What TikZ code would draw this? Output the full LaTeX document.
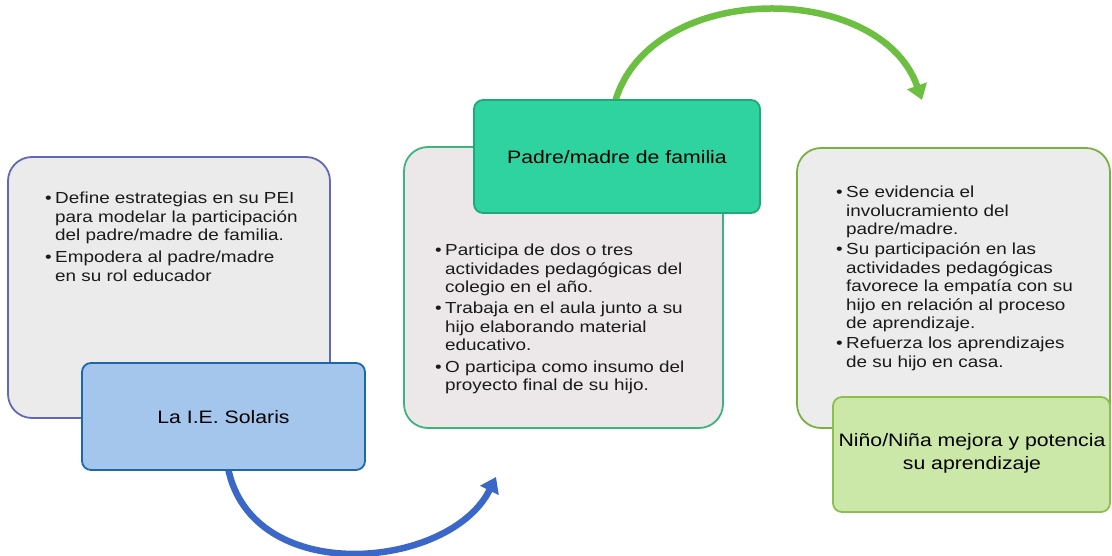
\documentclass[tikz,border=0pt]{standalone}
\usepackage{fontspec}
\setmainfont{Liberation Sans}[FakeStretch=1.18]
\usetikzlibrary{arrows.meta}
\definecolor{lbfill}{HTML}{EBEBEB}
\definecolor{lbdraw}{HTML}{6468B4}
\definecolor{lsfill}{HTML}{A4C6EC}
\definecolor{lsdraw}{HTML}{1E67A8}
\definecolor{mbfill}{HTML}{ECE8EA}
\definecolor{mbdraw}{HTML}{3DB37F}
\definecolor{msfill}{HTML}{2ED3A0}
\definecolor{msdraw}{HTML}{22A878}
\definecolor{rbfill}{HTML}{ECECEC}
\definecolor{rbdraw}{HTML}{7AB040}
\definecolor{rsfill}{HTML}{CBE8A8}
\definecolor{rsdraw}{HTML}{8CC04C}
\definecolor{barrow}{HTML}{3B68C8}
\definecolor{garrow}{HTML}{6CBF40}
\definecolor{txt}{HTML}{1A1A1A}
\newcommand{\bl}{\makebox[10pt][l]{•}}
\newcommand{\ii}{\hspace*{10pt}}
\tikzset{
  bigbox/.style={rounded corners=24pt, line width=1.8pt},
  smallbox/.style={rounded corners=9pt, line width=1.8pt},
  bullets/.style={anchor=north west, inner sep=0pt, align=left, text=txt,
    font=\fontsize{16}{18.4}\selectfont},
  title/.style={align=center, inner sep=0pt, text=black,
    font=\fontsize{18}{23}\selectfont},
  flowarrow/.style={line width=6.5pt, -{Triangle[length=15pt,width=20pt]}}
}
\begin{document}
\begin{tikzpicture}[x=1pt,y=1pt]
\useasboundingbox (0,0) rectangle (1112,-556);
% arrows (behind the boxes)
\coordinate (bs) at (228,-468);
\coordinate (be) at (496,-477);
\coordinate (gs) at (615,-102);
\coordinate (ge) at (922,-100);
\draw[flowarrow, barrow] (bs) .. controls (252,-588) and (450,-570) .. (be);
\draw[flowarrow, garrow] (gs) .. controls (650,20) and (880,20) .. (ge);
% left
\draw[bigbox, fill=lbfill, draw=lbdraw] (8,-157) rectangle (330,-418);
\node[bullets] (lt) at (45,-192) {\bl Define estrategias en su PEI\\
\ii para modelar la participación\\
\ii del padre/madre de familia.\\[4pt]
\bl Empodera al padre/madre\\
\ii en su rol educador};
\draw[smallbox, fill=lsfill, draw=lsdraw] (82,-363) rectangle (365,-470);
\node[title] (ls) at (223.5,-417) {La I.E. Solaris};
% middle
\draw[bigbox, fill=mbfill, draw=mbdraw] (404,-147) rectangle (723,-428);
\node[bullets] (mt) at (435,-244) {\bl Participa de dos o tres\\
\ii actividades pedagógicas del\\
\ii colegio en el año.\\[3pt]
\bl Trabaja en el aula junto a su\\
\ii hijo elaborando material\\
\ii educativo.\\[3pt]
\bl O participa como insumo del\\
\ii proyecto final de su hijo.};
\draw[smallbox, fill=msfill, draw=msdraw] (474,-100) rectangle (760,-213);
\node[title] (ms) at (617,-157) {Padre/madre de familia};
% right
\draw[bigbox, fill=rbfill, draw=rbdraw] (797,-148) rectangle (1110,-428);
\node[bullets] (rt) at (836,-186) {\bl Se evidencia el\\
\ii involucramiento del\\
\ii padre/madre.\\[2pt]
\bl Su participación en las\\
\ii actividades pedagógicas\\
\ii favorece la empatía con su\\
\ii hijo en relación al proceso\\
\ii de aprendizaje.\\[2pt]
\bl Refuerza los aprendizajes\\
\ii de su hijo en casa.};
\draw[smallbox, fill=rsfill, draw=rsdraw] (833,-397) rectangle (1110,-512);
\node[title] (rs) at (972,-453) {Niño/Niña mejora y potencia\\su aprendizaje};
\end{tikzpicture}
\end{document}
